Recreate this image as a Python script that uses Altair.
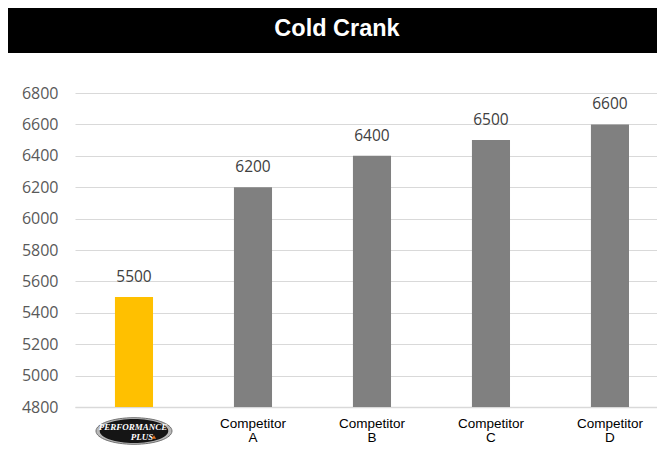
import altair as alt
import pandas as pd

# ---- data ----
categories = ["Performance Plus", "Competitor A", "Competitor B", "Competitor C", "Competitor D"]
values = [5500, 6200, 6400, 6500, 6600]
bar_colors = ["#FFC000", "#808080", "#808080", "#808080", "#808080"]
y_ticks = [4800, 5000, 5200, 5400, 5600, 5800, 6000, 6200, 6400, 6600, 6800]
title_text = ["Cold Crank"]
logo_cat = ["Performance Plus"]
logo_top = ["PERFORMANCE"]
logo_bottom = ["PLUS"]

df = pd.DataFrame({"cat": categories, "value": values, "color": bar_colors})
logo_df = pd.DataFrame({"cat": logo_cat, "top": logo_top, "bottom": logo_bottom})
title_df = pd.DataFrame({"t": title_text})

W, H = 582, 314

xscale = alt.Scale(domain=categories, paddingInner=0.68, paddingOuter=0.2855, align=0.588)
x_enc = alt.X(
    "cat:N",
    scale=xscale,
    sort=categories,
    axis=alt.Axis(
        title=None,
        labelExpr="datum.value == 'Performance Plus' ? '' : split(datum.value, ' ')",
        labelAngle=0,
        labelFont="Liberation Sans",
        labelFontSize=13.5,
        labelColor="#000000",
        labelPadding=9,
        labelLineHeight=14.5,
        ticks=False,
        domainColor="#d9d9d9",
        domainWidth=1.5,
    ),
)
yscale = alt.Scale(domain=[y_ticks[0], y_ticks[-1]], nice=False, zero=False)
y_enc = alt.Y(
    "value:Q",
    scale=yscale,
    axis=alt.Axis(
        values=y_ticks,
        format="d",
        title=None,
        grid=True,
        gridColor="#d9d9d9",
        ticks=False,
        domain=False,
        labelPadding=17,
        labelFont="Open Sans",
        labelFontSize=16,
        labelColor="#595959",
    ),
)

base = alt.Chart(df)

bars = base.mark_bar().encode(
    x=x_enc,
    y=y_enc,
    y2=alt.datum(y_ticks[0]),
    color=alt.Color("color:N", scale=None),
)

labels = base.mark_text(
    dy=-15, baseline="alphabetic", align="center",
    font="Open Sans", fontSize=15.5, color="#404040",
).encode(x=x_enc, y=y_enc, text="value:Q")

title_bar = alt.Chart(title_df).mark_rect(color="#000000").encode(
    x=alt.value(-67), x2=alt.value(W), y=alt.value(-85), y2=alt.value(-40)
)
title_txt = alt.Chart(title_df).mark_text(
    font="Liberation Sans", fontWeight="bold", fontSize=23.5, color="#ffffff",
    align="center", baseline="middle",
).encode(x=alt.value(262), y=alt.value(-64), text="t:N")

ellipse = "M-1,0 A1,0.35 0 1,1 1,0 A1,0.35 0 1,1 -1,0 Z"
logo_outer = alt.Chart(logo_df).mark_point(
    shape=ellipse, filled=True, size=5776, color="#b8b8b8", opacity=1,
    stroke="#707070", strokeWidth=1,
).encode(x=x_enc, y=alt.value(H + 24))
logo_inner = alt.Chart(logo_df).mark_point(
    shape=ellipse, filled=True, size=4700, color="#151515", opacity=1,
).encode(x=x_enc, y=alt.value(H + 24))
logo_t1 = alt.Chart(logo_df).mark_text(
    font="Liberation Sans Narrow", fontWeight="bold", fontStyle="italic",
    fontSize=9, color="#ffffff", align="center", baseline="middle", dx=-1,
).encode(x=x_enc, y=alt.value(H + 20), text="top:N")
logo_t2 = alt.Chart(logo_df).mark_text(
    font="Liberation Sans Narrow", fontWeight="bold", fontStyle="italic",
    fontSize=9, color="#ffffff", align="center", baseline="middle", dx=8,
).encode(x=x_enc, y=alt.value(H + 30), text="bottom:N")
logo_flame = alt.Chart(logo_df).mark_point(
    shape="triangle-up", filled=True, size=18, color="#e8701a", opacity=1, xOffset=20,
).encode(x=x_enc, y=alt.value(H + 30))

chart = alt.layer(
    title_bar, title_txt, bars, labels, logo_outer, logo_inner, logo_t1, logo_t2, logo_flame
).properties(
    width=W, height=H, padding=0, background="#ffffff"
).configure_view(stroke=None)

chart.save("out.html", embed_options={"renderer": "svg", "actions": False})
